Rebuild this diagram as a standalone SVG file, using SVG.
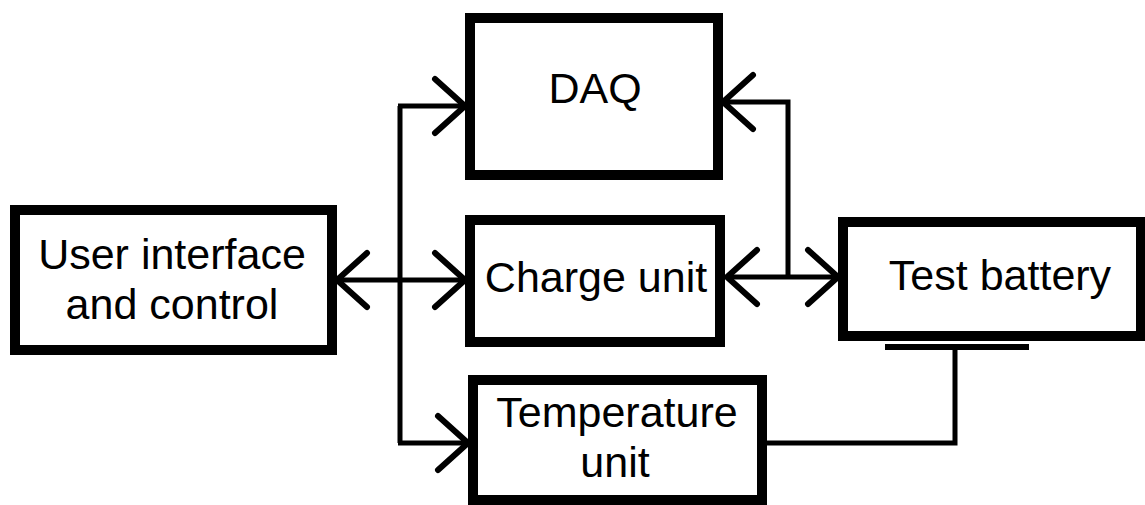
<svg xmlns="http://www.w3.org/2000/svg" width="1145" height="505" viewBox="0 0 1145 505">
<style>
.box{fill:#fff;stroke:#000;stroke-width:10}
.lbl{font-family:"Liberation Sans",Arial,sans-serif;font-size:43px;fill:#000;text-anchor:middle}
.wire{fill:none;stroke:#000;stroke-width:5}
</style>
<defs>
<marker id="chev" markerUnits="userSpaceOnUse" markerWidth="40" markerHeight="60" refX="0" refY="0" orient="auto-start-reverse" overflow="visible">
<path d="M-30,-27 L0,0 L-30,27" fill="none" stroke="#000" stroke-width="6" stroke-linecap="round" stroke-linejoin="miter"/>
</marker>
</defs>
<rect width="1145" height="505" fill="#fff"/>
<g id="connectors">
<line class="wire" x1="337" y1="280" x2="465" y2="280" marker-start="url(#chev)" marker-end="url(#chev)"/>
<line class="wire" x1="400" y1="106" x2="400" y2="443"/>
<line class="wire" x1="398" y1="106" x2="465" y2="106" marker-end="url(#chev)"/>
<line class="wire" x1="398" y1="443" x2="468" y2="443" marker-end="url(#chev)"/>
<line class="wire" x1="727" y1="277" x2="838" y2="277" marker-start="url(#chev)" marker-end="url(#chev)"/>
<path class="wire" d="M788,277 V102 H723" marker-end="url(#chev)"/>
<line x1="885" y1="347" x2="1029" y2="347" stroke="#000" stroke-width="6"/>
<path class="wire" d="M955,347 V443 H767"/>
</g>
<g id="ui">
<rect class="box" x="15" y="210" width="317" height="140"/>
<text class="lbl" x="172" y="269">User interface</text>
<text class="lbl" x="172" y="319">and control</text>
</g>
<g id="daq">
<rect class="box" x="470" y="18" width="248" height="157"/>
<text class="lbl" x="595" y="103">DAQ</text>
</g>
<g id="charge">
<rect class="box" x="470" y="220" width="250" height="122"/>
<text class="lbl" x="596" y="292">Charge unit</text>
</g>
<g id="battery">
<rect class="box" x="843" y="222" width="298" height="114"/>
<text class="lbl" x="1000" y="290">Test battery</text>
</g>
<g id="temp">
<rect class="box" x="473" y="380" width="289" height="120"/>
<text class="lbl" x="617" y="427">Temperature</text>
<text class="lbl" x="615" y="477">unit</text>
</g>
</svg>
